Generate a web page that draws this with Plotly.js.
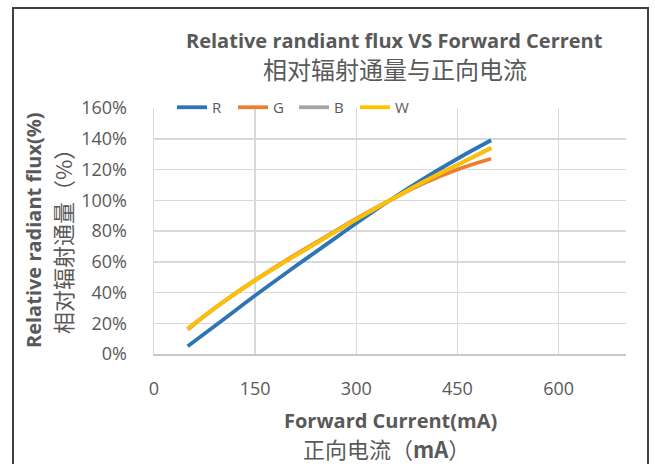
<!DOCTYPE html>
<html>
<head>
<meta charset="utf-8">
<script src="https://cdn.plot.ly/plotly-3.0.1.min.js"></script>
<style>html,body{margin:0;padding:0;background:#fff;}#chart{width:655px;height:464px;}</style>
</head>
<body>
<div id="chart"></div>
<script>
const current = [50, 100, 150, 200, 250, 300, 350, 400, 450, 500];
const fluxR = [5, 21.5, 38, 54, 69.5, 85, 100, 114, 127, 139];
const fluxG = [16, 33, 48, 62, 75, 88, 100, 111, 120, 127];
const fluxB = [16.5, 33, 48, 61.5, 74.5, 87.5, 100, 112, 123, 134];
const fluxW = [16.5, 33, 48, 61.5, 74.5, 87.5, 100, 112, 123, 134];
const seriesNames = ['R', 'G', 'B', 'W'];
const seriesColors = ['#2e75b6', '#ed7d31', '#a5a5a5', '#ffc000'];
const xTicks = [0, 150, 300, 450, 600];
const yTicks = [0, 20, 40, 60, 80, 100, 120, 140, 160];

const latin = '"Open Sans", "Noto Sans CJK SC", sans-serif';
const cjk = '"Noto Sans CJK SC", "Open Sans", sans-serif';
const grey = '#595959';

const series = [fluxR, fluxG, fluxB, fluxW];
const traces = series.map((ys, i) => ({
  x: current, y: ys, name: seriesNames[i], type: 'scatter', mode: 'lines',
  line: {color: seriesColors[i], width: 3.8, shape: 'spline', smoothing: 1.3}
}));

const L = 154, R = 626, T = 108, B = 354;
const W = 655, H = 464;
const px = v => (v - L) / (R - L);
const py = v => (B - v) / (B - T);

const layout = {
  width: W, height: H,
  margin: {l: L, r: W - R, t: T, b: H - B, pad: 0},
  paper_bgcolor: '#ffffff', plot_bgcolor: '#ffffff',
  showlegend: true,
  legend: {orientation: 'h', x: px(172), y: py(91), xanchor: 'left', yanchor: 'top',
    font: {family: latin, size: 15, color: grey}, bgcolor: 'rgba(0,0,0,0)',
    entrywidth: 16, tracegroupgap: 0},
  xaxis: {range: [0, 700], tickvals: xTicks, ticktext: xTicks.map(String),
    showgrid: true, gridcolor: '#d9d9d9', gridwidth: 1.5, zeroline: false,
    showline: true, linecolor: '#c8c8c8', linewidth: 1.5, ticks: '',
    ticklabelstandoff: 18,
    tickfont: {family: latin, size: 18, color: grey}, fixedrange: true},
  yaxis: {range: [0, 160], tickvals: yTicks, ticktext: yTicks.map(v => v + '%'),
    showgrid: true, gridcolor: '#d9d9d9', gridwidth: 1.5, zeroline: false,
    showline: true, linecolor: '#d9d9d9', linewidth: 1.5, ticks: '', ticklabelstandoff: 22,
    tickfont: {family: latin, size: 18, color: grey}, fixedrange: true},
  annotations: [
    {text: '<b>Relative randiant flux VS Forward Cerrent</b>', xref: 'paper', yref: 'paper',
     x: px(394), y: py(40), xanchor: 'center', yanchor: 'middle', showarrow: false,
     font: {family: latin, size: 20, color: grey}},
    {text: '相对辐射通量与正向电流', xref: 'paper', yref: 'paper',
     x: px(395), y: py(68), xanchor: 'center', yanchor: 'middle', showarrow: false,
     font: {family: cjk, size: 24, color: grey}},
    {text: '<b>Forward Current(mA)</b>', xref: 'paper', yref: 'paper',
     x: px(390), y: py(420), xanchor: 'center', yanchor: 'middle', showarrow: false,
     font: {family: latin, size: 20, color: grey}},
    {text: '正向电流（<b>mA</b>）', xref: 'paper', yref: 'paper',
     x: px(386), y: py(448), xanchor: 'center', yanchor: 'middle', showarrow: false,
     font: {family: cjk, size: 22, color: grey}},
    {text: '<b>Relative radiant flux(%)</b>', xref: 'paper', yref: 'paper', textangle: -90,
     x: px(33), y: py(230), xanchor: 'center', yanchor: 'middle', showarrow: false,
     font: {family: latin, size: 20, color: grey}},
    {text: '相对辐射通量（%）', xref: 'paper', yref: 'paper', textangle: -90,
     x: px(62), y: py(236), xanchor: 'center', yanchor: 'middle', showarrow: false,
     font: {family: cjk, size: 22, color: grey}}
  ],
  shapes: [
    {type: 'rect', xref: 'paper', yref: 'paper', x0: px(13), x1: px(648), y0: py(480), y1: py(8),
     line: {color: '#404040', width: 2}, fillcolor: 'rgba(0,0,0,0)', layer: 'below'}
  ]
};

Plotly.newPlot('chart', traces, layout, {displayModeBar: false, staticPlot: true});
</script>
</body>
</html>
